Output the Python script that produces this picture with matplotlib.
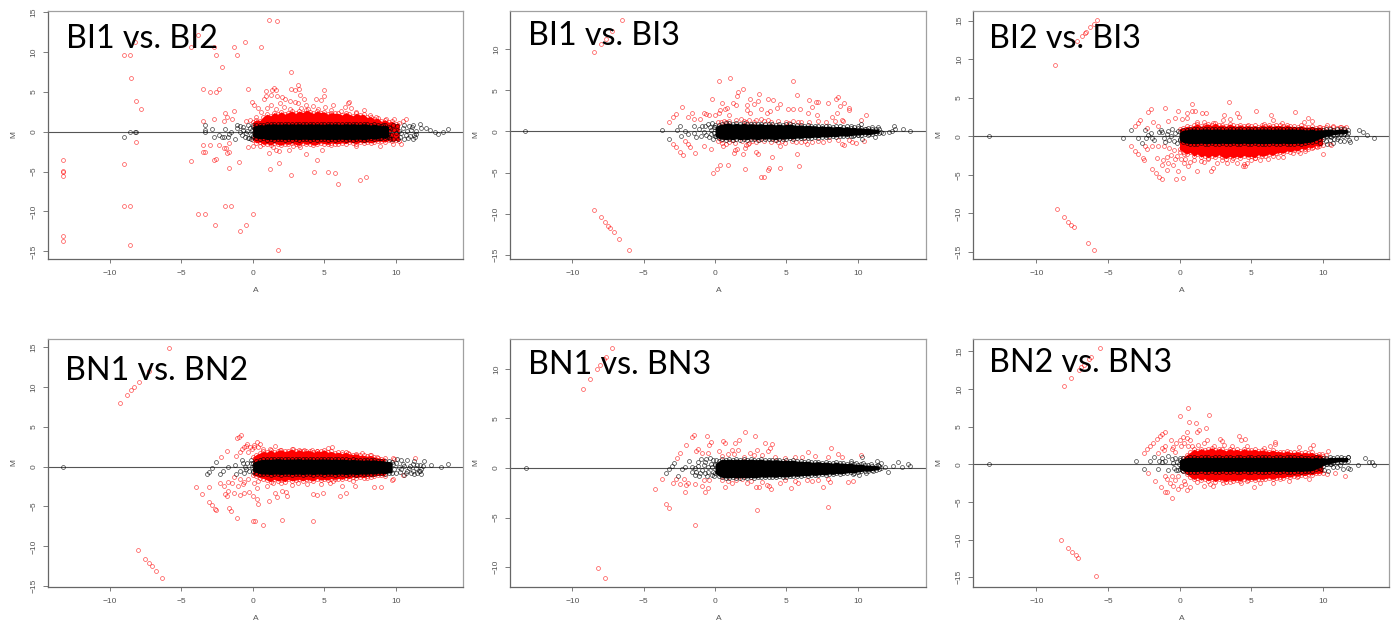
import matplotlib
matplotlib.use('Agg')
import matplotlib.pyplot as plt

W = 1396
H = 623
n = float('nan')

# points as (A, M); the solid middle of each cloud is too
# dense to read one by one, so it is kept as upper/lower edges over band_a
bi12_red = [(1.14,14.0),(1.68,13.83),(-3.8,12.15),(-8.2,11.2),(-9,9.6),(-8.6,9.6),(-4.3,10.57),(-2.7,10.57),(-2.55,9.6),(-1.3,10.57),(-0.56,11.2),(-1.07,9.6),(0.56,10.57),(-2.17,8.15),(2.68,7.5),(-8.5,6.7),(-8.13,3.9),(-7.8,2.9),(-3.5,5.35),(-3,4.93),(-2.56,5),(-2.35,5.35),(-0.33,5.4),(-1.3,2.6),(-1.93,2.4),(-1.8,1.9),(-3.5,1.3),(-2.7,1.6),(-2,1.3),(-1.45,1.6),
    (-13.26,-3.5),(-13.26,-4.93),(-13.26,-5.05),(-13.26,-5.55),(-13.26,-13.04),(-13.26,-13.7),(-9,-4),(-8.13,-1.25),(-9,-9.3),(-8.6,-9.3),(-8.6,-14.2),(-4.3,-3.72),(-3.5,-1.7),(-3,-1.7),(-2.33,-1.7),(-3.5,-2.55),(-3.33,-2.55),(-2.7,-3.55),(-2.56,-3.43),(-1.9,-2),(-2,-2.1),(-1.68,-1.4),(-1.77,-2.7),(-1.68,-2.55),(-1.65,-4.55),(-0.93,-3.8),(-3.8,-10.3),(-3.33,-10.3),(-1.93,-9.3),(-1.5,-9.3),(0.02,-10.3),(-2.63,-11.66),(-0.47,-11.66),(-0.88,-12.45),(1.75,-14.8),(1.12,-2.67),(1.2,-4.68),(1.84,-3.93),(2.68,-5.43),(1.86,-2.4),(1.6,-2.35),(2.54,-2.25),(3.7,-2.8),(4.5,-3.55),(4.87,-2.3),(4.29,-5.05),(5.24,-5.1),(5.78,-5.18),(6,-6.56),(7.5,-6),(7.93,-5.68),
    (0.93,5.05),(1.47,5.5),(1.6,5.25),(1.33,5.2),(1.28,4.63),(1.68,4.5),(0.82,4.13),(0.9,4.47),(2.05,4.3),(2.24,4.13),(2.66,5.4),(2.94,5.27),(3.17,5.85),(3.24,5.4),(3.29,4.64),(3.59,4.1),(4.43,4.1),(4.8,3.97),(5,5.2),(5,4.5),(5.64,3.4),(6.74,3.76),(6.64,3.55),(-0.07,3.7),(0.09,3.3),(0.35,2.93),(1.9,3.55),(2.63,3.85),(2.94,3.76),(3.15,3.55),(3.73,3.34),(4.2,3.2),(5.06,3.13),(6.46,3.13),(7.2,2.5),(7.8,2.7),(0.6,2.5),(1,3),(1.3,3.4),(1.6,2.9),(2.2,3.1),(2.6,2.9),(3.4,3),(3.9,2.8),(4.6,2.9),(5.5,2.7),(6.2,2.6),(6.9,3),(8.2,2.1),(8.6,1.9),(9.3,1.6),(9.9,1.6),(10.5,1.4),(10.7,1.6),(-0.5,1.4),(-0.2,1.5),(0.2,1.9),(-0.3,-1.9),(0,-1.8),(0.5,-1.8),(1.4,-1.9),(2.8,-1.8),(3.3,-1.9),(5.5,-1.7),(7.2,-1.8),(8.9,-1.8),(9.8,-1.6),(10.4,-1.6)]
bi12_black = [(-9,-0.67),(-8.58,0),(-8.2,0),(-8.13,0),(-3.33,0.83),(-3.33,0.2),(-3.33,-0.08),(-2.84,0.3),(-2.68,-0.67),(-2.33,-0.42),(-2.17,-0.67),(-1.91,0.3),(-2,-0.67),(-1.72,-0.67),(-1.54,0),(-1.63,-0.33),(-1.24,-0.92),(-1.07,0.84),(-1.07,0.42),(-0.89,0),(-0.77,-0.42),(-0.65,0.63),(-0.54,-0.63),(-0.3,0.84),(-0.23,-0.84),(-0.07,0.2),(0.05,-0.63),(-0.4,0.1),(-0.1,-0.4),(-0.9,0.7),(-0.7,0.2),(-0.5,-0.2),(-0.2,0.5),(0,0.85),(0.1,-0.1),(-0.35,-0.85),(-0.1,-0.9),
    (11.68,0.96),(11.75,0.42),(12.12,0.5),(12.4,0.2),(12.75,-0.08),(12.98,-0.25),(13.33,0),(13.64,0.3),(11.35,-0.63),(11.45,-0.3),(11.12,0.63),(11.24,0.84),(10.89,-0.84),(10.54,0.42),(10.3,-0.63),(10.07,0.71),(9.84,-0.96),(9.6,0.42),(9.37,-0.71),(9.14,0.84),(8.9,-0.84),(10.8,0.1),(11,-0.5),(10.2,0.1),(9.9,0.2),(9.7,-0.4),(10.6,-0.9),(11.2,-0.9),(11.4,0.1),(10.9,0.7),(9.5,0.1),(9.8,0.8),(10,-0.2),(10.4,-0.2),(10.6,0.8),(10.75,-0.4),(11.05,0.2),(11.3,-0.4),(9.6,-0.9),(10.15,-0.9),(9.3,0.4),(9.45,-0.3)]

bi13_red = [(-6.52,13.53),(-7.2,12.2),(-7.66,11.18),(-8,10.6),(-8.46,9.64),(-8.48,-9.52),(-8,-10.45),(-7.7,-11),(-7.52,-11.43),(-7.34,-11.75),(-7.1,-12.28),(-6.73,-13.1),(-6.03,-14.4),
    (1.05,6.52),(0.28,6.16),(5.47,6.16),(1.94,5.15),(1.59,4.74),(1.52,4.3),(3.08,4.58),(2.45,3.97),(-0.23,3.97),(0.49,3.4),(1.29,3.48),(1.45,3.16),(3.04,3.65),(2.71,3.36),(2.27,3.2),(3.74,4),(4.07,3.77),(4.56,3.36),(5.75,4.38),(6.59,3.85),(7.06,3.57),(7.24,3.6),(7.9,3.44),(8.6,4.2),(8.48,3.89),(9.02,3.44),(8.76,3.08),(9.39,2.8),(9.39,2.63),(10.58,1.98),(10.2,1.38),
    (-2.31,2.92),(-1.64,2.27),(-2.73,2.1),(-2.94,1.7),(-3.22,1.13),(-1.92,1.7),(-0.77,2.19),(-0.65,2.07),(-1.5,1.54),(-1.05,1.46),(-0.44,1.98),(0,1.98),(0.35,2.6),(0.3,2.19),(0.7,2.67),(0.84,2.88),(1,2),(2.22,2.6),(2.45,2.27),(3.22,2.76),(3.62,2.19),(3.86,2.5),(4.32,2.8),(5.14,2.76),(5.49,2.67),(5.96,2.67),(6.54,2.19),(6.78,2.92),(7.13,1.98),(8.18,1.78),(8.53,2.19),(8.88,1.38),
    (-2.92,-1.54),(-2.73,-1.86),(-2.45,-2.47),(-2.22,-2.88),(-2.1,-1.2),(-1.92,-1.5),(-1.73,-1.9),(-1.4,-2.6),(-0.77,-1.78),(-0.28,-2.1),(-0.14,-5.1),(0.16,-4.54),(0.35,-4.05),(0.91,-4.05),(2.1,-4.58),(3.22,-5.5),(3.46,-5.5),(3.69,-4.74),(3.79,-4.5),(4.56,-4.5),(5.91,-4.25),(5.72,-2.71),(4,-3.12),(2.99,-2.76),(2.85,-2.47),(2.1,-2.07),(1.99,-2.71),(1.36,-2.63),(1.4,-2.27),(1.57,-2.15),(8.88,-1.5),(9.02,-1.66),(9.63,-1.34),(9.86,-1.46),(10.44,-1.13),(0.58,-1.78),(2.34,-1.54),(4.56,-1.74),(6.43,-1.54),(7.6,-1.26),
    (0.2,1.2),(0.6,1.3),(1,1.25),(1.5,1.4),(2,1.3),(2.4,1.45),(2.9,1.35),(3.4,1.3),(3.9,1.2),(4.4,1.25),(5,1.2),(5.5,1.3),(6,1.15),(6.6,1.2),(7.2,1.3),(7.8,1.2),(8.4,1.25),(9,1.3),(0.4,1.1),(0.8,1.15),(1.8,1.5),(2.2,1.15),(2.7,1.2),(3.2,1.5),(3.7,1.4),(5.2,1.05),(5.8,1.1),
    (0.2,-1.2),(0.5,-1.35),(1,-1.25),(1.4,-1.45),(1.9,-1.2),(2.4,-1.4),(2.9,-1.3),(3.4,-1.2),(3.9,-1.25),(4.4,-1.3),(4.9,-1.35),(5.4,-1.2),(6,-1.3),(6.8,-1.25),(7.2,-1.2),(8,-1),(8.6,-1.1),(9.4,-1.05),(0.4,-1.1),(0.8,-1.5),(1.2,-1.1),(2.2,-1.6),(2.6,-1.15),(3.1,-1.1),(4.2,-1.1),(4.7,-1.15),(5.7,-1.25),(6.3,-1.2)]
bi13_black = [(-13.3,0.03),(-3.7,0.12),(-3.2,-0.9),(-2.7,0.12),(-2.45,0.65),(-2.4,-0.5),(-2.1,0.1),(-1.9,-0.35),(-1.45,0.65),(-1.45,-0.2),(-1.3,-0.7),(-1.1,0.3),(-1,-0.6),(-0.9,0.6),(-0.8,-0.1),(-0.7,0.7),(-0.6,-0.4),(-0.5,0.85),(-0.4,-0.7),(-0.3,0.2),(-0.2,1),(-0.15,-0.9),(-0.1,0.5),(-0.05,-0.2),(0,0.8),(0.1,-0.6),(-0.25,-0.3),(-0.35,0.5),
    (10,0.6),(10.2,0.85),(10,-0.4),(10.3,-0.9),(10.6,0.3),(10.8,-0.3),(11,0.55),(11.2,-0.65),(11.4,0.55),(11.6,-0.1),(11.8,-0.2),(12.2,-0.1),(12.4,0.1),(12.55,0.65),(12.6,0.25),(13.2,0.35),(13.65,0.07),(9.5,0.7),(9.7,-0.6),(10.4,0.1),(11,-0.1)]

bi23_red = [(-5.75,15.06),(-6,14.6),(-6.24,14.24),(-6.5,13.55),(-6.59,13.46),(-6.82,13.03),(-7.15,12.34),(-8.68,9.26),(-8.57,-9.48),(-8.06,-10.52),(-7.78,-11.13),(-7.57,-11.5),(-7.38,-11.77),(-6.4,-13.85),(-5.96,-14.72),
    (3.49,4.5),(0.88,4.2),(0.88,3.29),(1.05,3.33),(-0.14,3.25),(-0.98,3.64),(-2,3.6),(-2.19,3.2),(1.56,3.07),(1.84,3.03),(3.12,2.77),(4,3.03),(4.14,2.47),(5.35,3.29),(6.38,2.77),(8.08,3.16),(8.96,2.42),(9.24,2.03),(-2.77,2.12),(-2.93,1.77),(-3.12,1.34),(-1.82,1.9),(-2.28,1.04),(-1.51,1.34),(-0.81,2),(-0.3,2.42),(0.16,2.2),(0.51,3),(0.51,2.34),(1.2,1.9),(1.7,1.9),(2.33,1.77),(3.07,2.12),(3.54,2.2),(4.7,1.34),(5.87,1.6),(6.52,2.12),(7.15,1.77),(8.66,1.9),
    (-3.42,-1.2),(-3.1,-1.86),(-2.89,-2.25),(-2.58,-2.81),(-2.49,-3.07),(-2.4,-1.2),(-2.26,-1.6),(-1.93,-4.24),(-1.63,-4.8),(-1.4,-5.24),(-1.23,-5.58),(-0.86,-4.37),(-0.23,-5.54),(0.23,-5.37),(-0.14,-4.55),(1.19,-4.5),(2.17,-4.55),(2.37,-4.16),(4.59,-3.81),(10,-2.29),(-1.23,-3.7),(-1.58,-2.86),(-1.12,-3.07),(-0.77,-3.5),(-0.42,-3.7),(0.28,-3.5),(0.75,-3.29),(1.68,-3.29),(2.61,-3.5),(3.31,-3.42),(4,-3.5),(4.7,-3.42),(5.29,-2.86),(6.2,-3),(6.9,-2.64),(7.96,-2.2),(8.78,-1.86),(9.6,-1.34),(10.5,-1.04),
    (-0.9,-2.7),(-0.6,-2.4),(-0.4,-1.8),(-0.7,-1.5),(-1.1,-1.3),(-1.5,-1.2),(-1.9,-1.25),(0.1,-2.9),(0.4,-3),(1,-3.1),(2,-3),(3,-3.1),(5,-3.1),(5.6,-3.05),(7.2,-2.7),(8.4,-2.2),(9,-1.6),(9.3,-1.4),(10.3,1.4),(10.7,1.3),(11.2,1.2),(11.6,1.15),(10.6,-1.1),(9.8,1.25),(-0.2,-2.5),(-0.3,-3),(0.05,-2),(0.3,-2.3),(0.6,-3.8),(1.5,-3.2),(3.7,-3.1),(4.4,-3.9),(4.5,-3.6)]
bi23_black = [(-13.3,0.03),(-3.95,-0.2),(-3.4,0.75),(-2.9,-0.2),(-2.6,-0.85),(-2.4,0.8),(-2.35,-0.2),(-2.2,0.2),(-2.0,0.4),(-1.9,-0.2),(-1.8,-0.5),(-1.4,0.5),(-1.3,0.85),(-1.2,0.6),(-1.1,-0.25),(-1,-0.75),(-0.9,0.3),(-0.8,0.7),(-0.7,-0.5),(-0.6,0.1),(-0.5,0.9),(-0.4,-0.6),(-0.3,0.4),(-0.2,-0.9),(-0.1,0.7),(0,-0.4),(0.1,0.1),
    (12.5,0.75),(12.8,0.55),(13.1,0.2),(13.55,-0.2),(12.3,-0.2),(11.9,-0.75),(11.85,-0.5),(11.5,-0.6),(11.2,-0.55),(11,-0.4),(10.7,-0.9),(10.3,-0.95),(9.8,-0.9),(11.7,0.1),(11.4,0.05),(11.1,-0.1),(10.8,-0.3),(10.5,-0.5),(10.2,-0.65),(10,-0.4),(9.9,0.0),(10.3,0.0),(10.6,-0.15)]

bn12_red = [(-5.85,14.86),(-7.23,12),(-7.97,10.6),(-8.27,10),(-8.5,9.6),(-8.79,9),(-9.28,7.96),(-8.02,-10.5),(-7.53,-11.55),(-7.25,-12.1),(-7.04,-12.47),(-6.76,-13.1),(-6.34,-13.94),
    (-0.84,3.95),(-0.98,3.74),(-1.12,3.53),(-0.4,2.82),(-0.58,2.45),(-0.75,2.15),(-0.89,1.82),(0.33,3.03),(0.54,2.78),(0.09,2.49),(-0.07,2.15),(-0.3,1.78),(-1.82,1.94),(-2.19,1.19),(-1.17,1.27),(1.56,2.53),(2.84,2.19),(5.29,2.28),(5.52,2.4),(4.13,2.07),(6.22,1.78),(7.62,1.65),(8.67,1.23),(9.84,1.11),(11.35,1.11),(-0.5,2.6),(-0.2,2.4),(0.1,2.75),(0.4,2.5),(0.7,2.2),(1.2,2.2),(1.9,2.1),(3.3,2),(3.6,2.1),(4.5,1.95),(6.7,1.7),(7.2,1.5),(8.2,1.4),
    (-4,-2.53),(-3.52,-3.49),(-3.05,-2.53),(-3.05,-4.45),(-2.87,-4.83),(-2.61,-5.29),(-2.54,-5.45),(-2.26,-2.07),(-1.98,-2.44),(-1.7,-1.9),(-1.47,-2.03),(-1.75,-3.03),(-1.96,-3.45),(-1.8,-3.7),(-1.28,-3.28),(-0.89,-3.58),(-0.6,-3.36),(-1.68,-5.2),(-1.5,-5.58),(-1.07,-6.41),(0.05,-6.79),(0.16,-6.87),(0.7,-7.33),(2.05,-6.7),(4.2,-6.79),(-0.26,-3.2),(0,-3.7),(0.3,-4.07),(0.35,-4.66),(0.28,-2.65),(1.14,-4.28),(1.54,-3.36),(1.68,-3.87),(2.03,-3.03),(2.31,-3.24),(2.38,-3.7),(4.24,-3.45),(4.48,-3.62),(4.94,-3.28),(6.1,-3.7),(6.5,-3.32),(6.25,-2.44),(7.16,-2.44),(8.5,-2.57),(8.97,-2.57),(0.98,-2.44),(2.73,-2.32),(3.78,-2.24),(4.78,-2.2),(5.64,-1.82),(7.04,-1.82),(7.97,-1.4),(9.72,-1.69),(10.54,-1.07),(-1.3,-1.3),(-0.9,-1.5),(-0.6,-1.9),(-1,-2.5),(-0.7,-2.2),(-0.3,-1.6),(0.1,-2.1),(0.4,-1.8),(1.4,-2.1),(2,-2.1),(3.2,-2),(5.4,-2),(9.8,-1.5),(9.9,1)]
bn12_black = [(-13.29,0),(-3.22,-0.94),(-3.05,-0.65),(-2.87,-0.23),(-2.56,0.52),(-2.28,-0.94),(-2.05,-0.55),(-1.75,0),(-1.23,0.2),(-1.17,-0.94),(-0.77,0.8),(-0.55,0),(-0.9,-0.5),(-0.6,-0.8),(-0.4,0.5),(-0.25,-0.5),(-0.15,0.85),(-0.05,-0.1),(-0.7,0.4),(-0.45,-0.3),(-0.1,0.4),(0,-0.7),(0.1,0.1),(12.47,0.19),(13.2,-0.1),(13.63,0.27),
    (11.95,0.65),(11.9,0.1),(11.75,-0.95),(11.6,-0.5),(11.4,-0.2),(11.2,-0.6),(11.3,0.75),(10.8,0.85),(10.8,-0.5),(10.4,0.85),(10.4,-0.3),(10.1,0.9),(10,-0.85),(9.8,0.3),(9.9,-0.3),(10.6,-1),(10.2,0),(11,0.1),(11.5,0.25),(11.7,0.2),(10,0.5),(10.3,-0.7),(10.5,0.3),(10.7,-0.8),(10.9,-0.2),(11.1,-0.8),(11.3,-0.9),(11.5,-0.8),(11.7,-0.6),(11.8,-0.3),(10.6,0.1),(11.2,0.3)]

bn13_red = [(-7.2,12.1),(-7.66,11.16),(-7.76,10.96),(-8.06,10.39),(-8.25,9.98),(-8.76,9),(-9.25,8),(-8.2,-10.08),(-7.73,-11.06),
    (2.08,3.63),(2.8,3.19),(-1.5,3.36),(-1.64,3.16),(-0.56,3.26),(0.54,2.76),(0.68,2.55),(1.68,2.82),(1.4,2.55),(-0.28,2.66),(-0.44,2.35),(-2,2.35),(3.5,2.52),(3.97,2.45),(3.86,2.05),(3.71,1.68),(2.94,1.85),(-1.19,1.92),(-1.36,1.68),(-2.45,1.48),(-2.69,1.04),(-0.89,1.48),(-0.47,1.48),(0.28,1.75),(1.17,1.82),(1.64,1.82),(0.93,1.38),(2.45,1.51),(8.13,2.02),(6.54,1.58),(8.6,1.41),(10.2,1.34),(7,1.21),(6.07,1.14),(4.9,1.04),(7.94,1.11),(0.5,1.2),(1.3,1.4),(2,1.15),(2.7,1.3),(3.3,1.3),(4.2,1.1),(5.6,1.1),(8.9,1.15),
    (-4.2,-2.08),(-3.71,-1.11),(-3.43,-3.63),(-3.22,-4.03),(-2.94,-1.51),(-2.73,-1.11),(-2.45,-1.65),(-2.08,-2.39),(-2.15,-1.11),(-2.06,-1.71),(-1.89,-1.51),(-1.4,-1.61),(-1.38,-5.71),(-0.89,-1.78),(-0.47,-1.98),(-0.7,-2.39),(2.94,-4.23),(7.92,-3.93),(0.7,-1.92),(2.87,-1.95),(3.1,-1.95),(3.9,-2.15),(5.33,-2.05),(7.55,-1.92),(9.35,-1.38),(9.65,-1.28),(1.17,-1.55),(2.22,-1.55),(3.62,-1.71),(4.56,-1.55),(5.84,-1.55),(6.78,-1.31),(8.06,-1.38),(0.47,-1.21),(1.87,-1.11),(4.91,-1.21),(6.43,-1.21),(-0.8,-1.2),(-0.4,-1.25),(0.9,-1.3),(1.5,-1.2),(2.5,-1.3),(3.3,-1.4),(3.8,-1.8),(5.6,-1.3),(7.2,-1.2),(7.9,-1.15)]
bn13_black = [(-13.27,0.03),(-3.43,-0.47),(-3.2,-0.1),(-3.04,0.24),(-2.85,0.5),(-2.57,-0.77),(-2.29,-0.13),(-2.1,0.13),(-1.82,0.74),(-1.64,-0.37),(-1.4,-0.03),(-1.17,0.64),(-1.4,-0.71),(-1.05,-0.54),(-0.7,0.64),(-0.47,0.13),(-0.7,-0.54),(-0.23,-0.7),(-0.35,0.97),(-0.12,0.8),(-0.12,-0.37),(-1.2,0.2),(-1.0,0.9),(-0.9,-0.2),(-0.55,-0.85),(-0.3,0.4),(-1.6,0.1),(-1.3,-0.4),(-1.1,-0.85),(-0.8,0.3),(-0.6,0.9),(-0.5,-0.4),(-0.2,0.1),(-0.05,-0.85),(0,0.3),(0.1,0.85),(0.15,-0.4),
    (10.28,1.07),(11.33,0.7),(12.85,0.64),(13.5,0.4),(13.7,0.2),(12.1,-0.37),(12.5,0.17),(13.13,0.13),(10.1,-0.7),(10.4,0.5),(10.6,-0.5),(10.9,0.4),(11.1,-0.35),(11.4,0.3),(11.65,0.05),(11.9,0.1),(11.6,0.5),(9.5,0.75),(9.7,-0.6),(9.9,0.5),(10.8,-0.1)]

bn23_red = [(-5.56,15.46),(-6.15,14.27),(-6.31,14),(-6.7,13.2),(-6.89,12.9),(-7.03,12.55),(-7.57,11.5),(-8.06,10.48),(-8.27,-10.04),(-7.78,-11.1),(-7.5,-11.63),(-7.26,-12.03),(-7.08,-12.42),(-5.82,-14.89),
    (0.58,7.53),(0,6.39),(2.07,6.61),(0.65,5.68),(1.16,5.55),(1.86,4.89),(0.54,4.27),(1.35,4.54),(1.23,4.27),(-1.02,4.36),(-1.19,4.1),(-1.35,3.83),(-1.58,3.35),(-1.86,2.82),(-2.05,2.42),(-2.24,1.98),(-2.51,1.45),(-1.02,2.42),(-1.23,2.11),(-1.47,1.54),(-0.6,3.22),(0.21,3.61),(0,3.3),(-0.23,2.86),(-0.42,2.29),(-0.51,1.98),(0.51,3.52),(0.75,3.3),(0.58,2.42),(1.91,3.3),(1.68,2.86),(2.84,3.35),(2.96,3.08),(4.12,3.79),(4.28,3.3),(4.59,3.35),(6.66,3),(6.68,2.64),(6.33,2.5),(3.66,2.42),(4.7,2.42),(5.87,2.2),(8.31,2.33),(9.29,2.55),(9.13,2.2),(10.4,1.76),(9.94,1.41),(-1.1,1.9),(-0.3,1.6),(0.1,2.4),(0.3,2.9),(0.9,2.5),(1.3,2.6),(2.4,2.5),(3.1,2.6),
    (-2.21,-1.15),(-1.7,-2.25),(-1.28,-3.04),(-1,-3.66),(-0.88,-3.74),(-0.51,-4.49),(-1,-1.59),(-0.84,-1.98),(-0.65,-2.42),(-0.42,-2.86),(-0.14,-3.3),(0.51,-3.39),(0.7,-2.95),(1.68,-2.86),(2.37,-2.86),(3.03,-2.51),(4.31,-2.51),(5.22,-2.95),(5.63,-2.42),(6.52,-2.51),(7.68,-2.25),(9.06,-1.98),(10.29,-1.32),(11.57,-1.54),(10.87,-1.1),(0.28,-2.2),(1.21,-2.33),(2.14,-2.55),(3.54,-2.29),(4.7,-2.2),(7.03,-1.98),(8.2,-1.67),(-0.55,-1.5),(-0.3,-2.1),(-0.1,-1.6),(0.1,-2.9),(0.35,-2.6)]
bn23_black = [(-13.3,0),(-3.05,0.4),(-2.51,-0.57),(-2.03,0.4),(-1.49,-0.57),(-1.75,1.01),(-1.4,0.44),(-1.23,0.8),(-1.19,0.35),(-1,0.44),(-0.77,1.1),(-0.77,-0.8),(-0.54,0.66),(-0.37,-0.44),(-0.19,0.35),(-0.1,-0.8),(0,0.9),(0.1,-0.3),(0.2,0.5),(-0.45,0.2),(-0.3,0.85),(-0.25,-0.75),(-0.05,0.05),(0.15,-0.8),
    (12.92,0.79),(13.2,0.31),(13.43,0.26),(13.55,-0.09),(12.46,-0.09),(11.41,-0.62),(11.8,-0.44),(11.92,-0.57),(11.8,1.01),(10.1,-0.8),(10.4,-0.9),(10.7,-0.4),(11,-0.3),(11.2,-0.1),(10.3,0),(10.6,0.1),(9.9,-0.6)]

# A positions of the band edges, one row per unit of A
band_a = [0, 0.25, 0.5, 0.75, 1, 1.25, 1.5, 1.75, 2, 2.25, 2.5, 2.75, 3, 3.25, 3.5, 3.75,
          4, 4.25, 4.5, 4.75, 5, 5.25, 5.5, 5.75, 6, 6.25, 6.5, 6.75, 7, 7.25, 7.5, 7.75,
          8, 8.25, 8.5, 8.75, 9, 9.25, 9.5, 9.75, 10, 10.25, 10.5, 10.75, 11, 11.25, 11.5, 11.75]

bi12_red_top = [1.2,1.5,1.4,1.9, 2.2,2.0,2.4,2.2, 2.5,2.2,2.4,2.6, 2.3,2.6,2.4,2.7, 2.5,2.3,2.6,2.4, 2.5,2.2,2.4,2.3, 2.3,2.1,2.4,2.2, 2.0,2.3,2.1,2.2, 1.8,1.9,1.6,1.7, 1.3,1.5,1.2,1.3, 1.0,1.1,n,n, n,n,n,n]
bi12_red_bottom = [-1.1,-1.4,-1.3,-1.6, -1.5,-1.7,-1.4,-1.6, -1.7,-1.5,-1.6,-1.4, -1.6,-1.7,-1.4,-1.6, -1.5,-1.7,-1.6,-1.4, -1.5,-1.6,-1.4,-1.5, -1.5,-1.4,-1.5,-1.3, -1.4,-1.5,-1.3,-1.4, -1.3,-1.4,-1.3,-1.2, -1.2,-1.3,-1.1,-1.2, -1.1,-1.2,n,n, n,n,n,n]
bi12_black_top = [0.6,0.8,0.9,0.85, 1,0.95,1,0.95, 0.95,1,0.95,1, 0.95,1,0.95,0.95, 1,0.95,1,0.95, 0.95,1,0.95,1, 0.95,0.95,1,0.95, 1,0.95,0.95,1, 0.95,0.85,0.95,0.85, 0.75,0.85,0.65,n, n,n,n,n, n,n,n,n]
bi12_black_bottom = [-0.6,-0.8,-0.9,-0.85, -1,-0.95,-1,-0.95, -0.95,-1,-0.95,-1, -0.95,-1,-0.95,-0.95, -1,-0.95,-1,-0.95, -0.95,-1,-0.95,-1, -0.95,-0.95,-1,-0.95, -1,-0.95,-0.95,-1, -0.95,-0.85,-0.95,-0.85, -0.75,-0.85,-0.65,n, n,n,n,n, n,n,n,n]

bi13_black_top = [0.5,0.8,0.9,1, 1,0.9,1,0.9, 1,0.9,0.95,0.9, 0.9,0.95,0.85,0.9, 0.9,0.8,0.9,0.8, 0.85,0.9,0.8,0.75, 0.8,0.7,0.75,0.7, 0.7,0.6,0.7,0.6, 0.65,0.55,0.6,0.6, 0.5,0.6,0.45,0.5, 0.4,0.45,0.35,0.4, 0.3,0.3,0.25,n]
bi13_black_bottom = [-0.6,-0.85,-0.95,-1, -0.95,-1,-0.9,-1, -0.95,-1,-0.9,-0.95, -1,-0.9,-0.95,-0.9, -0.95,-1,-0.9,-0.95, -0.9,-0.85,-0.9,-0.8, -0.85,-0.75,-0.8,-0.75, -0.7,-0.75,-0.65,-0.7, -0.65,-0.6,-0.65,-0.55, -0.55,-0.6,-0.5,-0.45, -0.45,-0.4,-0.35,-0.4, -0.3,-0.25,-0.2,n]

bi23_red_top = [1.0,1.1,1.3,1.2, 1.4,1.6,1.3,1.5, 1.6,1.4,1.7,1.4, 1.5,1.3,1.6,1.4, 1.3,1.5,1.3,1.4, 1.3,1.4,1.2,1.5, 1.3,1.5,1.3,1.4, 1.4,1.3,1.5,1.3, 1.3,1.2,1.4,1.2, 1.2,1.3,1.1,1.2, 1.1,1.2,1.1,1.15, 1.1,1.15,1.1,n]
bi23_red_bottom = [-1.7,-2,-2.3,-2.1, -2.6,-2.3,-2.7,-2.5, -2.8,-2.5,-2.7,-2.4, -2.7,-2.9,-2.6,-2.8, -2.6,-2.8,-2.5,-2.7, -2.6,-2.8,-2.4,-2.6, -2.5,-2.3,-2.5,-2.2, -2.1,-2.2,-1.9,-2.0, -1.8,-1.9,-1.6,-1.7, -1.4,-1.5,-1.2,-1.3, -1.1,n,n,n, n,n,n,n]
bi23_black_top = [0.5,0.8,0.85,0.95, 0.95,0.9,0.95,0.95, 0.95,0.9,0.95,0.95, 0.9,0.95,0.95,0.9, 0.95,0.95,0.9,0.95, 0.95,0.9,0.95,0.95, 0.95,0.95,0.9,0.95, 0.95,0.9,0.95,0.95, 0.95,0.9,0.95,0.85, 0.85,0.95,0.8,0.85, 0.85,0.9,0.95,0.85, 0.9,0.95,0.9,0.85]
bi23_black_bottom = [-0.5,-0.8,-0.9,-0.95, -0.95,-0.95,-0.9,-0.95, -0.95,-0.9,-0.95,-0.95, -0.9,-0.95,-0.95,-0.9, -0.95,-0.95,-0.9,-0.95, -0.95,-0.9,-0.95,-0.95, -0.95,-0.95,-0.9,-0.95, -0.95,-0.9,-0.95,-0.95, -0.95,-0.9,-0.95,-0.85, -0.8,-0.75,-0.55,-0.35, -0.15,0,0.1,0.2, 0.25,0.3,0.35,0.4]

bn12_red_top = [1.2,1.5,1.7,1.9, 1.8,2.1,1.8,2, 2.1,1.9,2,2.2, 1.9,2.1,1.9,2, 2,1.8,2,1.9, 2.1,1.8,1.9,1.7, 1.8,1.6,1.8,1.6, 1.5,1.6,1.4,1.4, 1.3,1.4,1.2,1.1, 1,1.1,n,n, n,n,n,n, n,n,n,n]
bn12_red_bottom = [-1.1,-1.2,-1.4,-1.5, -1.7,-1.9,-1.6,-1.8, -1.7,-1.9,-1.6,-1.8, -1.7,-1.6,-1.8,-1.6, -1.7,-1.8,-1.5,-1.7, -1.6,-1.7,-1.5,-1.6, -1.5,-1.6,-1.4,-1.5, -1.3,-1.4,-1.3,-1.4, -1.2,-1.3,-1.2,-1.1, -1.1,-1.2,n,n, n,n,n,n, n,n,n,n]
bn12_black_top = [0.5,0.7,0.85,0.9, 0.95,0.9,0.95,1, 0.95,0.9,0.95,0.95, 0.95,1,0.9,0.95, 0.95,0.9,0.95,0.95, 0.95,0.95,0.9,0.95, 0.9,0.95,0.9,0.85, 0.9,0.85,0.85,0.8, 0.85,0.8,0.85,0.75, 0.75,0.7,0.65,0.55, n,n,n,n, n,n,n,n]
bn12_black_bottom = [-0.6,-0.75,-0.9,-0.95, -0.95,-1,-0.95,-0.95, -1,-0.95,-0.95,-1, -0.95,-0.95,-1,-0.95, -0.95,-1,-0.95,-0.95, -1,-0.95,-0.95,-1, -0.95,-0.95,-1,-0.95, -0.95,-1,-0.95,-0.95, -0.95,-0.9,-0.95,-0.85, -0.85,-0.9,-0.8,-0.75, n,n,n,n, n,n,n,n]

bn13_black_top = [0.4,0.7,0.9,0.85, 0.9,0.85,0.9,0.85, 0.9,0.85,0.9,0.85, 0.85,0.9,0.8,0.85, 0.8,0.85,0.8,0.75, 0.8,0.75,0.8,0.7, 0.7,0.65,0.7,0.6, 0.6,0.65,0.55,0.6, 0.55,0.5,0.6,0.5, 0.5,0.45,0.5,0.4, 0.35,0.4,0.3,0.3, 0.25,0.25,0.2,n]
bn13_black_bottom = [-0.5,-0.8,-0.95,-1, -1,-0.95,-1,-1, -0.95,-1,-0.95,-1, -0.95,-0.9,-0.95,-0.9, -0.9,-0.95,-0.85,-0.9, -0.9,-0.85,-0.8,-0.85, -0.8,-0.75,-0.8,-0.7, -0.75,-0.7,-0.65,-0.7, -0.6,-0.65,-0.55,-0.6, -0.55,-0.5,-0.45,-0.5, -0.4,-0.35,-0.3,-0.3, -0.25,-0.2,-0.15,n]

bn23_red_top = [n,0.9,1.3,1.6, 2,1.8,2.1,1.9, 2,2.2,1.9,2.1, 2,1.8,2.1,1.9, 2,1.8,2.1,1.9, 1.9,2,1.8,1.9, 1.8,1.7,1.9,1.7, 1.7,1.6,1.8,1.6, 1.6,1.7,1.5,1.6, 1.5,1.6,1.3,1.4, 1.1,1.2,n,n, n,n,n,n]
bn23_red_bottom = [n,-0.9,-1.3,-1.7, -2,-1.8,-2.1,-1.9, -2.2,-2,-2.3,-2, -2.1,-2.3,-2,-2.2, -2.1,-2.2,-1.9,-2.1, -2,-2.1,-1.9,-2, -1.9,-1.8,-2,-1.8, -1.7,-1.8,-1.6,-1.7, -1.5,-1.6,-1.4,-1.5, -1.3,-1.4,-1.2,-1.2, -1.1,n,n,n, n,n,n,n]
bn23_black_top = [0.55,0.8,0.9,0.95, 0.95,0.9,0.95,0.95, 0.95,0.9,0.95,0.95, 0.9,0.95,0.95,0.9, 0.95,0.95,0.9,0.95, 0.95,0.9,0.95,0.95, 0.95,0.95,0.9,0.95, 0.95,0.9,0.95,0.95, 0.95,0.9,0.95,0.9, 0.9,0.85,0.95,0.85, 0.9,0.85,0.95,0.9, 0.95,0.95,0.9,0.95]
bn23_black_bottom = [-0.6,-0.85,-0.95,-0.95, -0.95,-0.95,-0.9,-0.95, -0.95,-0.9,-0.95,-0.95, -0.9,-0.95,-0.95,-0.9, -0.95,-0.95,-0.9,-0.95, -0.95,-0.9,-0.95,-0.95, -0.95,-0.95,-0.9,-0.95, -0.95,-0.9,-0.95,-0.95, -0.95,-0.9,-0.95,-0.9, -0.9,-0.85,-0.65,-0.45, -0.2,0,0.1,0.2, 0.3,0.35,0.3,0.4]

titles = ['BI1 vs. BI2', 'BI1 vs. BI3', 'BI2 vs. BI3', 'BN1 vs. BN2', 'BN1 vs. BN3', 'BN2 vs. BN3']
x_ticks = [-10, -5, 0, 5, 10]
y_ticks_wide = [-15, -10, -5, 0, 5, 10, 15]
y_ticks_bi13 = [-15, -10, -5, 0, 5, 10]
y_ticks_bn13 = [-10, -5, 0, 5, 10]

plt.rcParams['font.family'] = ['Liberation Sans', 'DejaVu Sans']


def band(ax, top, bottom, col, alpha, z):
    ax.fill_between(band_a, top, bottom, color=col, lw=0, zorder=z)
    for edge in (top, bottom):
        ax.plot(band_a, edge, ls='none', marker='o', ms=2.8, mfc='none', mec=col, mew=0.5, alpha=alpha, zorder=z)


def draw(box, xlim, ylim, yticks, title, title_xy, red, black, red_edge, black_edge):
    left, right, top, bottom = box
    ax = fig.add_axes([left / W, 1 - bottom / H, (right - left) / W, (bottom - top) / H])
    ax.set_xlim(xlim)
    ax.set_ylim(ylim)

    if red_edge:
        band(ax, red_edge[0], red_edge[1], '#ff0000', 0.75, 1)
    ra, rm = zip(*red)
    ax.plot(ra, rm, ls='none', marker='o', ms=2.8, mfc='none', mec='#ff0000', mew=0.5, alpha=0.7, zorder=2)
    ax.axhline(0, color='#555555', lw=0.8, zorder=2.5)
    band(ax, black_edge[0], black_edge[1], 'black', 0.8, 3)
    ba, bm = zip(*black)
    ax.plot(ba, bm, ls='none', marker='o', ms=2.8, mfc='none', mec='black', mew=0.5, alpha=0.75, zorder=4)

    ax.set_xticks(x_ticks)
    ax.set_yticks(yticks)
    ax.tick_params(axis='x', length=3, width=0.6, color='#666666', labelcolor='#555555', labelsize=6, pad=5)
    ax.tick_params(axis='y', length=3.5, width=0.6, color='#666666', labelcolor='#555555', labelsize=6, pad=4)
    for t in ax.get_yticklabels():
        t.set_rotation(90)
        t.set_va('center')
    for side, col in [('left', '#666666'), ('bottom', '#666666'), ('top', '#a0a0a0'), ('right', '#a0a0a0')]:
        ax.spines[side].set_color(col)
        ax.spines[side].set_linewidth(0.9)

    fig.text((left + right) / 2 / W, 1 - (bottom + 31) / H, 'A', fontsize=6, color='#555555', ha='center', va='center')
    fig.text((left - 34) / W, 1 - (top + bottom) / 2 / H, 'M', fontsize=6, color='#555555', rotation=90, ha='center', va='center')
    fig.text(title_xy[0] / W, 1 - title_xy[1] / H, title, family=['Lato', 'DejaVu Sans'], fontsize=23.2, color='black', ha='left', va='baseline', zorder=10)


fig = plt.figure(figsize=(W / 100, H / 100), dpi=100, facecolor='white')

draw((47.7, 463.3, 10.7, 259), (-14.34, 14.73), (-15.96, 15.17), y_ticks_wide, titles[0], (66, 47.7), bi12_red, bi12_black,
     (bi12_red_top, bi12_red_bottom), (bi12_black_top, bi12_black_bottom))
draw((510.3, 926.3, 10.7, 259), (-14.35, 14.81), (-15.5, 14.67), y_ticks_bi13, titles[1], (527.7, 45.3), bi13_red, bi13_black,
     None, (bi13_black_top, bi13_black_bottom))
draw((973.3, 1389.3, 10.7, 259), (-14.4, 14.65), (-15.93, 16.3), y_ticks_wide, titles[2], (989.3, 47.7), bi23_red, bi23_black,
     (bi23_red_top, bi23_red_bottom), (bi23_black_top, bi23_black_bottom))
draw((47.7, 463.3, 338.7, 587), (-14.34, 14.73), (-15.1, 16.03), y_ticks_wide, titles[3], (65, 380), bn12_red, bn12_black,
     (bn12_red_top, bn12_red_bottom), (bn12_black_top, bn12_black_bottom))
draw((510.3, 926.3, 338.7, 587), (-14.35, 14.81), (-12.0, 13.04), y_ticks_bn13, titles[4], (528.3, 374), bn13_red, bn13_black,
     None, (bn13_black_top, bn13_black_bottom))
draw((973.3, 1389.3, 338.7, 587), (-14.4, 14.65), (-16.3, 16.7), y_ticks_wide, titles[5], (989, 371.7), bn23_red, bn23_black,
     (bn23_red_top, bn23_red_bottom), (bn23_black_top, bn23_black_bottom))

fig.savefig('out.png', dpi=100)
